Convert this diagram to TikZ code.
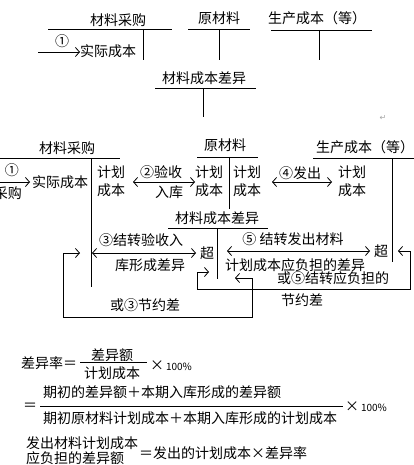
\documentclass[tikz,border=0pt]{standalone}
\usepackage{fontspec}
\newfontfamily\cjk{Noto Sans CJK SC}
\newfontfamily\dvs{DejaVu Sans}
\usetikzlibrary{arrows.meta}
\tikzset{
  txt/.style={inner sep=0pt, font=\cjk\fontsize{14}{18}\selectfont},
  small/.style={inner sep=0pt, font=\cjk\fontsize{10}{12}\selectfont},
  two/.style={txt, align=left},
  ln/.style={line width=0.8pt},
  arr/.style={line width=0.8pt, -{Straight Barb[length=4pt,width=9pt,line width=0.8pt]}},
  darr/.style={line width=0.8pt, {Straight Barb[length=4pt,width=9pt,line width=0.8pt]}-{Straight Barb[length=4pt,width=9pt,line width=0.8pt]}},
}
\begin{document}
\begin{tikzpicture}[x=1pt,y=-1pt]
\useasboundingbox[fill=white] (0,0) rectangle (414,465);
% ---------- top section ----------
\node[txt] (a1) at (118,20) {材料采购};
\draw[ln] (48,29) -- (172,29) (143,29) -- (143,60);
\node[txt] (n1) at (62,41) {①};
\node[txt] (a2) at (108,51) {实际成本};
\coordinate (a3) at (38,52);
\coordinate (a4) at (80,52);
\draw[arr] (a3) -- (a4);
\node[txt] (b1) at (219,18) {原材料};
\draw[ln] (188,29) -- (250,29) (219,29) -- (219,60);
\node[txt] (c1) at (317,18) {生产成本（等）};
\draw[ln] (271,30) -- (372,30) (319,30) -- (319,60);
\node[txt] (d1) at (204,78) {材料成本差异};
\draw[ln] (155,88) -- (256,88) (203,88) -- (203,117);
\node[inner sep=0pt, font=\dvs\fontsize{8}{9}\selectfont, text=black!35] (ret) at (383,118) {↵};
% ---------- middle section ----------
\node[txt] (m1) at (67,148) {材料采购};
\draw[ln] (0,158) -- (120,158) (91,158) -- (91,287);
\node[txt] (m2) at (12,170) {①};
\coordinate (m3) at (0,182);
\coordinate (m4) at (30,182);
\draw[arr] (m3) -- (m4);
\node[txt] (m5) at (60,182) {实际成本};
\node[txt, anchor=east] (m6) at (22,193) {采购};
\node[two] (m7) at (111,181) {计划\\成本};
\coordinate (p1) at (133,182);
\coordinate (p2) at (195,182);
\draw[darr] (p1) -- (p2);
\node[txt] (p3) at (161,172) {②验收};
\node[txt] (p4) at (169,192) {入库};
\node[txt] (r1) at (225,145) {原材料};
\draw[ln] (197,157) -- (258,157) (229,157) -- (229,209);
\node[two] (r2) at (209,181) {计划\\成本};
\node[two] (r3) at (247,181) {计划\\成本};
\coordinate (q1) at (272,182);
\coordinate (q2) at (332,182);
\draw[darr] (q1) -- (q2);
\node[txt] (q3) at (300,173) {④发出};
\node[two] (q4) at (352,181) {计划\\成本};
\node[txt] (s1) at (365,147) {生产成本（等）};
\draw[ln] (313,158) -- (414,158) (392,158) -- (392,262);
\node[txt] (e1) at (217,218) {材料成本差异};
\draw[ln] (168,228) -- (268,228) (217,228) -- (217,279);
% step 3
\node[txt] (f1) at (141,240) {③结转验收入};
\coordinate (f2) at (92,253);
\coordinate (f3) at (196,253);
\draw[darr] (f2) -- (f3);
\node[txt] (f4) at (207,253) {超};
\node[txt] (f5) at (150,265) {库形成差异};
% step 5
\node[txt] (g1) at (293,239) {⑤ 结转发出材料};
\coordinate (g2) at (227,251);
\coordinate (g3) at (370,251);
\draw[darr] (g2) -- (g3);
\node[txt] (g4) at (381,251) {超};
\node[txt] (g5) at (295,265) {计划成本应负担的差异};
\node[txt] (g6) at (333,278) {或⑤结转应负担的};
\node[txt] (g7) at (302,300) {节约差};
% loop 3 savings
\coordinate (h1) at (235,278);
\coordinate (h2) at (80,253);
\draw[darr] (h1) -- (252,278) -- (252,317) -- (63,317) -- (63,253) -- (h2);
\node[txt] (h3) at (145,305) {或③节约差};
% loop 5 savings
\coordinate (k1) at (398,251);
\coordinate (k2) at (209,272);
\draw[darr] (k1) -- (410,251) -- (410,289) -- (197,289) -- (197,272) -- (k2);
% ---------- formulas ----------
\node[txt, anchor=west] (x1) at (21,363) {差异率＝};
\node[txt] (x2) at (112,355) {差异额};
\draw[ln] (80,362) -- (147,362);
\node[txt] (x3) at (112,373) {计划成本};
\node[txt] (x4) at (157,366) {×};
\node[small] (x5) at (179,367) {100\%};
\node[txt] (y1) at (30,407) {＝};
\node[txt] (y2) at (162,392) {期初的差异额＋本期入库形成的差异额};
\draw[ln] (40,406) -- (343,406);
\node[txt] (y3) at (190,418) {期初原材料计划成本＋本期入库形成的计划成本};
\node[txt] (y4) at (352,407) {×};
\node[small] (y5) at (374,408) {100\%};
\node[txt, anchor=west] (z1) at (26,443) {发出材料计划成本};
\node[txt, anchor=west] (z2) at (26,458) {应负担的差异额};
\node[txt, anchor=west] (z3) at (139,453) {＝发出的计划成本×差异率};
\end{tikzpicture}
\end{document}
